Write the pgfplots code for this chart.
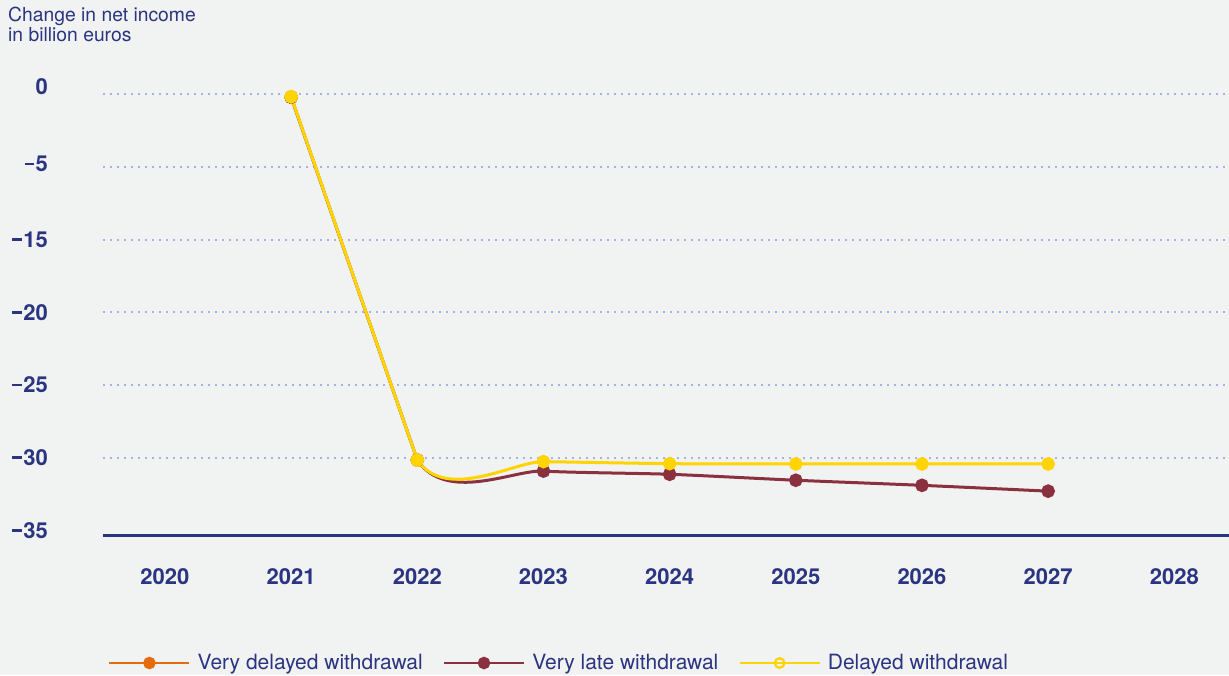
\documentclass[border=0pt]{standalone}
\usepackage{fontspec}
\setmainfont{TeX Gyre Heros}
\usepackage{pgfplots}
\pgfplotsset{compat=1.18}

\definecolor{bg}{RGB}{241,242,242}
\definecolor{navy}{RGB}{42,52,128}
\definecolor{gridc}{RGB}{168,178,226}
\definecolor{gold}{RGB}{255,212,0}
\definecolor{wine}{RGB}{139,48,62}
\definecolor{tang}{RGB}{228,108,12}

% wide minus sign used in the tick labels
\newcommand\mn{\rule[6.4pt]{9.4pt}{2.8pt}\kern1.6pt}

% change in net income (billion euros)
\pgfplotstableread{
year  verylate  delayed
2021  -0.2      -0.17
2022  -30.16    -30.16
2023  -30.92    -30.27
2024  -31.14    -30.41
2025  -31.55    -30.43
2026  -31.90    -30.43
2027  -32.30    -30.43
}\netincome

\begin{document}
\begin{tikzpicture}[x=1pt,y=1pt]
\fill[bg] (0,0) rectangle (1229,675);
\useasboundingbox (0,0) rectangle (1229,675);
\node[anchor=base west, align=left, inner sep=0pt, text=navy,
      font=\fontsize{19.3}{20}\selectfont] at (8,633.3)
  {Change in net income\\in billion euros};
\begin{axis}[
  at={(103pt,139.7pt)}, anchor=south west,
  scale only axis, width=1126pt, height=455.3pt,
  xmin=2019.509, xmax=2028.433,
  ymin=-35.337, ymax=0.98,
  % the value axis is compressed between -5 and -15
  y coord trafo/.code={\pgfmathparse{ifthenelse(#1>-5,#1,ifthenelse(#1>-15,0.5*#1-2.5,#1+5))}},
  axis x line*=bottom, axis y line*=left,
  x axis line style={navy, line width=2.7pt},
  y axis line style={draw=none},
  major tick length=0pt, tick style={draw=none},
  xtick={2020,2021,2022,2023,2024,2025,2026,2027,2028},
  xticklabels={2020,2021,2022,2023,2024,2025,2026,2027,2028},
  xticklabel style={anchor=north, inner sep=0pt, yshift=-32.7pt, text=navy,
                    font=\fontsize{22}{22}\selectfont\bfseries},
  ytick={0,-5,-15,-20,-25,-30},
  yticklabels={\raisebox{16pt}{0},\raisebox{6pt}{\mn5},\mn15,\mn20,\mn25,\mn30},
  extra y ticks={-35}, extra y tick labels={\mn35},
  extra y tick style={grid=none},
  yticklabel style={anchor=east, inner sep=0pt, xshift=-55pt, text=navy,
                    font=\fontsize{22}{22}\selectfont\bfseries},
  ymajorgrids,
  major grid style={gridc, line width=1.8pt, dash pattern=on 1.8pt off 5.2pt},
  clip=false,
  legend columns=3,
  legend image code/.code={\draw[mark repeat=2,mark phase=2,#1] plot coordinates {(0pt,0pt)(40pt,0pt)(80pt,0pt)};},
  legend style={at={(0.00444,-0.2805)}, anchor=west, draw=none, fill=none,
                inner sep=0pt, text=navy, font=\fontsize{21}{21}\selectfont,
                nodes={inner sep=0pt},
                /tikz/every odd column/.append style={column sep=7pt},
                /tikz/every even column/.append style={column sep=20pt}},
  line/.style={line width=3pt, mark=*, mark size=5.3pt, forget plot},
]
\addlegendimage{tang, line width=2.5pt, mark=*, mark size=5pt}
\addlegendimage{wine, line width=2.5pt, mark=*, mark size=5pt}
\addlegendimage{gold, line width=2.5pt, mark=o, mark size=4.8pt, mark options={fill=bg, line width=2.2pt}}

% the drop from 2021 to 2022 is drawn straight ...
\addplot[wine, line, restrict x to domain=2021:2022] table[x=year, y=verylate] {\netincome};
% ... and the curve from 2022 onwards smoothed
\begin{scope}
  \clip ({axis cs:2022,0} |- {rel axis cs:0,0}) rectangle ({rel axis cs:1.05,1.05});
  \addplot[wine, line, smooth, tension=0.42] table[x=year, y=verylate] {\netincome};
\end{scope}
\addplot[gold, line, restrict x to domain=2021:2022] table[x=year, y=delayed] {\netincome};
\begin{scope}
  \clip ({axis cs:2022,0} |- {rel axis cs:0,0}) rectangle ({rel axis cs:1.05,1.05});
  \addplot[gold, line, smooth, tension=0.42] table[x=year, y=delayed] {\netincome};
\end{scope}

\legend{Very delayed withdrawal, Very late withdrawal, Delayed withdrawal}
\end{axis}
\end{tikzpicture}
\end{document}
